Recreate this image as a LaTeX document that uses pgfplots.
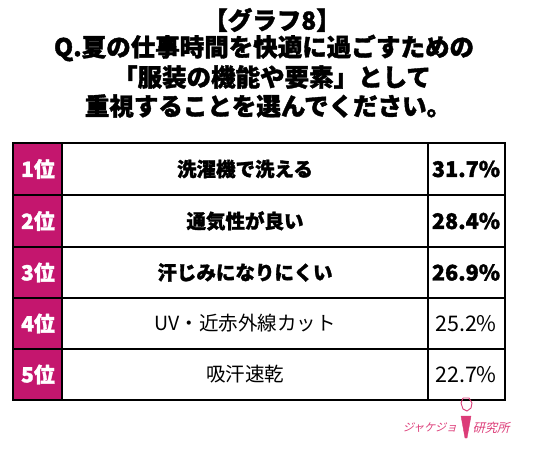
\documentclass[border=0pt]{standalone}
\usepackage{pgfplots}
\pgfplotsset{compat=1.18}
\usepackage{pgfplotstable}
\usepackage{fontspec}
\newfontfamily\jp{Noto Sans CJK JP}
\newfontfamily\jpb{Noto Sans CJK JP Bold}
\newfontfamily\jpk{Noto Sans CJK JP Black}[FakeBold=1.5]
\newfontfamily\jplogo{Noto Sans CJK JP}[FakeSlant=0.25]
\definecolor{rankpink}{HTML}{C4166E}
\definecolor{logopink}{HTML}{DC3C78}
\definecolor{grid}{HTML}{333333}

\pgfplotstableread[col sep=comma]{
y,rank,label,value
169,1,洗濯機で洗える,31.7
221,2,通気性が良い,28.4
272.5,3,汗じみになりにくい,26.9
}\topdata
\pgfplotstableread[col sep=comma]{
y,rank,label,value
323.5,4,UV・近赤外線カット,25.2
374.5,5,吸汗速乾,22.7
}\restdata

\begin{document}
\begin{tikzpicture}
\begin{axis}[
  width=533pt, height=449pt, scale only axis,
  xmin=0, xmax=533, ymin=0, ymax=449, y dir=reverse,
  hide axis, clip=false,
  /pgf/number format/assume math mode=true,
]
% bounding frame
\addplot[draw=none] coordinates {(0,0) (533,449)};
% rank column fill
\addplot[fill=rankpink, draw=none] coordinates {(13,143) (62,143) (62,400) (13,400)} -- cycle;
% horizontal rules
\addplot[grid, line width=1.4pt] coordinates {(13,195) (505,195)};
\addplot[grid, line width=1.4pt] coordinates {(13,247) (505,247)};
\addplot[grid, line width=1.4pt] coordinates {(13,298) (505,298)};
\addplot[grid, line width=1.4pt] coordinates {(13,349) (505,349)};
% vertical rules
\addplot[grid, line width=1.4pt] coordinates {(62,143) (62,400)};
\addplot[grid, line width=1.4pt] coordinates {(428,143) (428,400)};
% frame
\addplot[grid, line width=1.6pt] coordinates {(13,143) (505,143) (505,400) (13,400)} -- cycle;

% rank labels
\addplot[draw=none, mark=none, nodes near coords={\pgfplotspointmeta 位},
  point meta=explicit symbolic,
  nodes near coords align={center},
  every node near coord/.style={anchor=center, text=white, font=\jpk\fontsize{21}{24}\selectfont}]
  table[x expr=38, y=y, meta=rank] {\topdata};
\addplot[draw=none, mark=none, nodes near coords={\pgfplotspointmeta 位},
  point meta=explicit symbolic,
  nodes near coords align={center},
  every node near coord/.style={anchor=center, text=white, font=\jpk\fontsize{21}{24}\selectfont}]
  table[x expr=38, y=y, meta=rank] {\restdata};

% item labels
\addplot[draw=none, mark=none, nodes near coords,
  point meta=explicit symbolic,
  nodes near coords align={center},
  every node near coord/.style={anchor=center, text=black, font=\jpk\fontsize{19.5}{22}\selectfont}]
  table[x expr=245, y=y, meta=label] {\topdata};
\addplot[draw=none, mark=none, nodes near coords,
  point meta=explicit symbolic,
  nodes near coords align={center},
  every node near coord/.style={anchor=center, text=black, font=\jp\fontsize{19.5}{22}\selectfont}]
  table[x expr=245, y=y, meta=label] {\restdata};

% values
\addplot[draw=none, mark=none,
  nodes near coords={\pgfmathprintnumber[fixed,precision=1,fixed zerofill]{\pgfplotspointmeta}\%},
  point meta=explicit,
  nodes near coords align={center},
  every node near coord/.style={anchor=center, text=black, font=\jpk\fontsize{21.5}{24}\selectfont}]
  table[x expr=466, y=y, meta=value] {\topdata};
\addplot[draw=none, mark=none,
  nodes near coords={\pgfmathprintnumber[fixed,precision=1,fixed zerofill]{\pgfplotspointmeta}\%},
  point meta=explicit,
  nodes near coords align={center},
  every node near coord/.style={anchor=center, text=black, font=\jp\fontsize{21.5}{24}\selectfont}]
  table[x expr=466, y=y, meta=value] {\restdata};

% title
\node[anchor=center, font=\jpk\fontsize{24.5}{27}\selectfont] at (axis cs:272,20) {【グラフ8】};
\node[anchor=center, font=\jpk\fontsize{24.5}{27}\selectfont] at (axis cs:264,48) {Q.夏の仕事時間を快適に過ごすための};
\node[anchor=center, font=\jpk\fontsize{24.5}{27}\selectfont] at (axis cs:272,77) {「服装の機能や要素」として};
\node[anchor=center, font=\jpk\fontsize{24.5}{27}\selectfont] at (axis cs:268,106) {重視することを選んでください。};

% logo
\node[anchor=center, text=logopink, font=\jplogo\fontsize{11}{13}\selectfont] at (axis cs:430,428) {ジャケジョ};
\node[anchor=center, text=logopink, font=\jplogo\fontsize{12.3}{14}\selectfont] at (axis cs:491,428) {研究所};
\addplot[draw=logopink, line width=0.9pt] coordinates {(463,398) (461,403) (463,409) (467,411) (471,408) (472,403) (469,398) (463,398)};
\addplot[fill=logopink, draw=logopink] coordinates {(461,416) (471,416) (467,438) (465,438)} -- cycle;
\end{axis}
\pgfresetboundingbox
\path (current axis.south west) rectangle (current axis.north east);
\end{tikzpicture}
\end{document}
